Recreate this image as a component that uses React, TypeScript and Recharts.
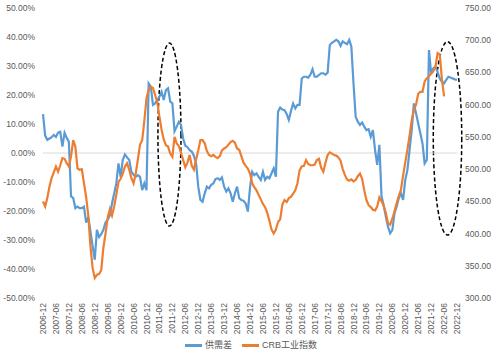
import { LineChart, Line, XAxis, YAxis, ReferenceLine, ReferenceArea } from 'recharts';

// half-year tick labels, one every 6 months starting 2006-12
const tickLabels = [
  '2006-12', '2007-06', '2007-12', '2008-06', '2008-12', '2009-06', '2009-12', '2010-06', '2010-12',
  '2011-06', '2011-12', '2012-06', '2012-12', '2013-06', '2013-12', '2014-06', '2014-12', '2015-06',
  '2015-12', '2016-06', '2016-12', '2017-06', '2017-12', '2018-06', '2018-12', '2019-06', '2019-12',
  '2020-06', '2020-12', '2021-06', '2021-12', '2022-06', '2022-12',
];

// 供需差, monthly, percent (left axis)
const supplyGap = [
  13.4, 6.0, 4.5, 5.0, 5.5, 6.2, 5.5, 7.0, 7.3, 2.2, 7.0, 5.2, 3.9,
  -15.0, -15.5, -19.0, -18.5, -19.0, -19.0, -18.5, -24.0, -22.0, -27.0, -32.0, -36.8,
  -26.5, -29.0, -28.0, -26.5, -24.0, -23.0, -21.5, -17.4, -14.0, -10.5, -3.6, -8.2,
  -2.4, -0.5, -1.5, -2.4, -6.5, -7.5, -8.2, -7.6, -8.2, -12.8, -10.5, -12.8,
  24.0, 22.9, 16.6, 17.1, 18.3, 19.4, 21.1, 18.3, 21.7, 22.3, 17.7, 17.1,
  7.5, 9.1, 10.8, 9.7, 5.0, 2.5, 2.0, 1.0, 0.5, -1.0, -3.6, -11.6,
  -16.2, -16.8, -13.9, -11.6, -12.2, -11.0, -10.5, -9.0, -8.7, -9.3, -8.4, -11.6,
  -13.3, -12.2, -13.9, -16.8, -13.9, -11.6, -15.6, -16.2, -16.5, -17.4, -20.2, -12.0,
  -6.5, -7.6, -7.0, -8.2, -9.3, -6.5, -9.3, -8.2, -8.7, -7.0, -5.3, -8.2,
  14.2, 15.7, 15.0, 14.8, 13.5, 11.4, 14.5, 17.1, 15.4, 16.6, 16.6, 25.7,
  26.3, 26.3, 26.0, 27.0, 28.9, 26.3, 26.3, 26.9, 27.5, 27.5, 27.0, 27.7,
  37.2, 38.0, 38.5, 39.0, 38.5, 36.9, 38.5, 38.0, 37.5, 39.0, 36.7, 24.0,
  12.5, 10.8, 9.7, 10.5, 9.1, 7.9, 8.2, 5.6, 7.9, 1.0, -4.1, 2.8,
  -15.0, -18.0, -22.0, -25.4, -27.7, -26.6, -20.8, -18.5, -15.6, -13.9, -16.2, -9.3,
  -5.9, 1.0, 7.9, 17.1, 13.7, 10.2, 6.8, 3.3, -3.6, -2.4, 35.5, 27.5,
  29.2, 29.8, 28.0, 25.7, 24.6, 24.0, 25.2, 26.3, 26.0, 25.7, 25.4, 25.2,
];

// CRB工业指数, monthly (right axis), ends mid-2022
const crbIndex = [
  450, 442, 455, 473, 486, 495, 504, 496, 506, 517, 516, 509, 504,
  520, 545, 535, 501, 499, 500, 478, 457, 428, 380, 347, 331,
  336, 337, 343, 378, 400, 425, 438, 428, 442, 460, 480, 485,
  493, 504, 509, 499, 486, 478, 493, 515, 538, 545, 575, 610,
  623, 628, 626, 615, 604, 581, 561, 546, 537, 535, 524, 519,
  550, 540, 536, 525, 514, 503, 510, 522, 505, 499, 515, 529,
  545, 545, 540, 528, 522, 520, 522, 519, 517, 520, 529, 532,
  534, 538, 542, 544, 541, 532, 530, 520, 510, 505, 501, 493,
  478, 472, 467, 460, 453, 446, 441, 432, 420, 406, 400, 406,
  418, 422, 445, 452, 449, 455, 457, 462, 467, 478, 498, 504,
  505, 514, 508, 506, 506, 507, 514, 516, 502, 496, 510, 522,
  526, 524, 522, 521, 518, 513, 500, 491, 484, 482, 484, 481,
  483, 489, 493, 485, 467, 452, 444, 441, 437, 436, 442, 456,
  450, 443, 432, 416, 414, 423, 434, 447, 458, 468, 490, 510,
  530, 552, 576, 592, 600, 617, 620, 620, 636, 641, 644, 648,
  652, 658, 680, 678, 640, 613,
];

// dashed highlight ellipses: [start month index, end month index, top %, bottom %]
const highlights = [
  [53.3, 64.0, 37.9, -25.2],
  [181.0, 194.2, 38.4, -28.3],
];

const leftTicks = [-50, -40, -30, -20, -10, 0, 10, 20, 30, 40, 50];
const rightTicks = [300, 350, 400, 450, 500, 550, 600, 650, 700, 750];

const series = [
  { key: 'gap', name: '供需差', color: '#5B9BD5' },
  { key: 'crb', name: 'CRB工业指数', color: '#ED7D31' },
];

const data = supplyGap.map((v, i) => ({
  idx: i,
  gap: v,
  crb: i < crbIndex.length ? crbIndex[i] : null,
}));

const FONT = '"Liberation Sans", "Noto Sans CJK SC", sans-serif';
const TEXT = '#595959';

function DateTick({ x, y, payload }: any) {
  return (
    <text
      x={x}
      y={y}
      dy={3}
      transform={`rotate(-90, ${x}, ${y})`}
      textAnchor="end"
      fill={TEXT}
      fontSize={8.5}
      fontFamily={FONT}
    >
      {tickLabels[Math.round(payload.value / 6)]}
    </text>
  );
}

function Ellipse(props: any) {
  const { x, y, width, height } = props;
  return (
    <ellipse
      cx={x + width / 2}
      cy={y + height / 2}
      rx={width / 2}
      ry={height / 2}
      fill="none"
      stroke="#000"
      strokeWidth={1.5}
      strokeDasharray="4 2.5"
    />
  );
}

function ChartLegend() {
  return (
    <div
      style={{
        position: 'absolute',
        top: 338,
        left: 185,
        display: 'flex',
        alignItems: 'center',
        fontSize: 9,
        fontFamily: FONT,
        color: TEXT,
        lineHeight: '14px',
      }}
    >
      {series.map((s) => (
        <div key={s.key} style={{ display: 'flex', alignItems: 'center', marginRight: 10 }}>
          <span style={{ display: 'inline-block', width: 17, height: 3, background: s.color, marginRight: 3 }} />
          <span>{s.name}</span>
        </div>
      ))}
    </div>
  );
}

export default function App() {
  return (
    <div style={{ position: 'absolute', left: 0, top: 0, width: 499, height: 355, background: '#fff' }}>
      <LineChart
        width={499}
        height={355}
        data={data}
        margin={{ top: 8, right: 0, left: 0, bottom: 24 }}
        style={{ fontFamily: FONT }}
      >
        <XAxis
          dataKey="idx"
          type="number"
          domain={[0, 192]}
          ticks={tickLabels.map((_, i) => i * 6)}
          interval={0}
          tick={<DateTick />}
          tickLine={false}
          axisLine={false}
          tickSize={3}
          tickMargin={2}
          height={33}
        />
        <YAxis
          yAxisId="left"
          domain={[-50, 50]}
          ticks={leftTicks}
          tickFormatter={(v) => `${Number(v).toFixed(2)}%`}
          tick={{ fill: TEXT, fontSize: 8.5 }}
          tickLine={false}
          axisLine={false}
          width={43}
        />
        <YAxis
          yAxisId="right"
          orientation="right"
          domain={[300, 750]}
          ticks={rightTicks}
          tickFormatter={(v) => Number(v).toFixed(2)}
          tick={{ fill: TEXT, fontSize: 8.5 }}
          tickLine={false}
          axisLine={false}
          width={42}
        />
        <ReferenceLine yAxisId="left" y={0} stroke="#d9d9d9" strokeWidth={1} />
        {series.map((s) => (
          <Line
            key={s.key}
            yAxisId={s.key === 'gap' ? 'left' : 'right'}
            dataKey={s.key}
            name={s.name}
            stroke={s.color}
            strokeWidth={2.2}
            dot={false}
            connectNulls={false}
            isAnimationActive={false}
          />
        ))}
        {highlights.map(([x1, x2, y1, y2], i) => (
          <ReferenceArea
            key={i}
            yAxisId="left"
            x1={x1}
            x2={x2}
            y1={y1}
            y2={y2}
            ifOverflow="visible"
            shape={<Ellipse />}
          />
        ))}
      </LineChart>
      <ChartLegend />
    </div>
  );
}
